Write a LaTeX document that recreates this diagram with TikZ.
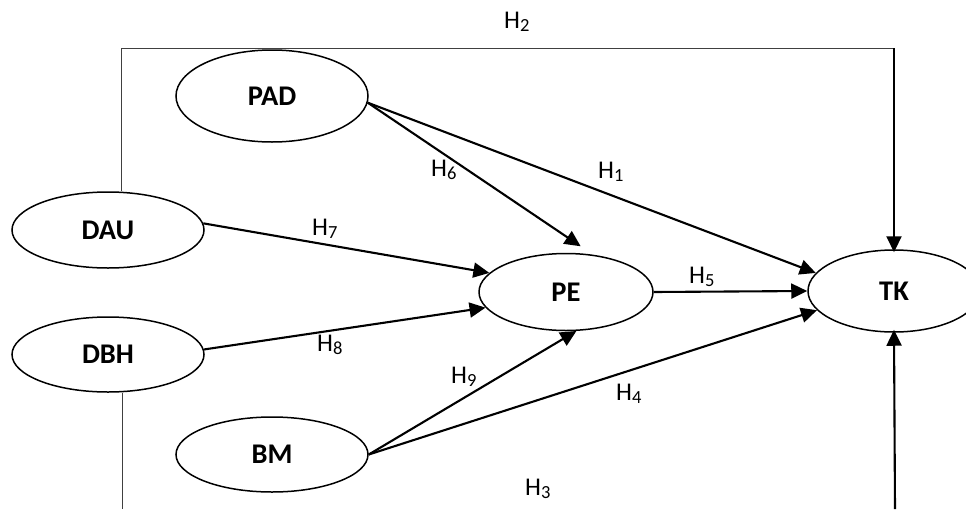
\documentclass[tikz,border=0pt]{standalone}
\usepackage{fontspec}
\setmainfont{Carlito}
\usetikzlibrary{shapes.geometric,arrows.meta}
\newcommand\Hs[1]{H\raisebox{-0.14em}{\fontsize{18.5}{20}\selectfont #1}}
\begin{document}
\begin{tikzpicture}[x=1pt,y=-1pt,
  var/.style={ellipse,draw,line width=1.5pt,inner sep=0pt,font=\fontsize{28.5}{30}\selectfont\bfseries},
  conn/.style={line width=2.1pt,-{Triangle[length=16pt,width=15pt]}},
  thinline/.style={line width=0.9pt,draw=black!75},
  hl/.style={anchor=base west,inner sep=0pt,font=\fontsize{25.5}{30}\selectfont}]
\useasboundingbox (0,0) rectangle (966,509);
\clip (0,0) rectangle (966,509);
\node[var,minimum width=192pt,minimum height=92pt] (pad) at (272,96) {PAD};
\node[var,minimum width=192pt,minimum height=76pt] (dau) at (108,230) {DAU};
\node[var,minimum width=192pt,minimum height=75pt] (dbh) at (108,354.5) {DBH};
\node[var,minimum width=192pt,minimum height=75pt] (bm) at (272,454.5) {BM};
\node[var,minimum width=174pt,minimum height=77pt] (pe) at (566,292) {PE};
\node[var,minimum width=172pt,minimum height=82pt] (tk) at (894,291) {TK};
\coordinate (tl) at (121,48);
\coordinate (tr) at (894,48);
\coordinate (bl) at (122,509);
\coordinate (br) at (895,509);
\draw[thinline] (dau.north -| tl) -- (tl) -- (tr);
\draw[conn,shorten >=-3pt] (tr) -- (tk.north);
\draw[thinline] (dbh.south -| bl) -- (bl);
\draw[conn,shorten >=-3pt] (br) -- (tk.south);
\draw[conn] (pad.-4) -- (tk.167);
\draw[conn,shorten >=15pt] (pad.-4) -- (pe.54);
\draw[conn] (dau.4) -- (pe.166);
\draw[conn] (dbh.3) -- (pe.191);
\draw[conn] (pe.east) -- (tk.west);
\draw[conn] (bm.east) -- (pe.-75);
\draw[conn] (bm.east) -- (tk.194);
\node[hl] (h1) at (598,178) {\Hs{1}};
\node[hl] (h2) at (504,28) {\Hs{2}};
\node[hl] (h3) at (525,495) {\Hs{3}};
\node[hl] (h4) at (616,400) {\Hs{4}};
\node[hl] (h5) at (689,283) {\Hs{5}};
\node[hl] (h6) at (431,176) {\Hs{6}};
\node[hl] (h7) at (312,235) {\Hs{7}};
\node[hl] (h8) at (317,351) {\Hs{8}};
\node[hl] (h9) at (451,383) {\Hs{9}};
\end{tikzpicture}
\end{document}
